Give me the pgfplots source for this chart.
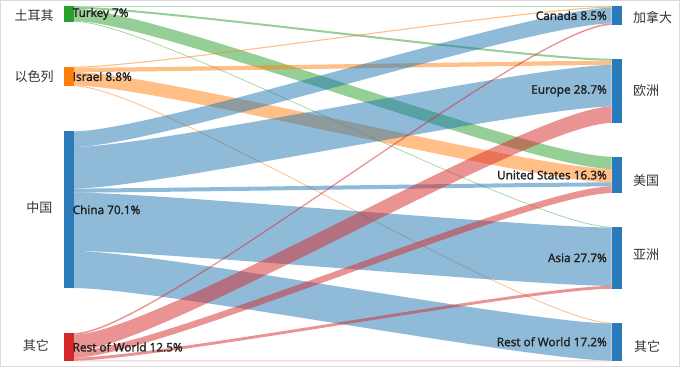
\documentclass[border=0pt]{standalone}
\usepackage{pgfplots}
\pgfplotsset{compat=1.18}
\usepackage{pgfplotstable}
\usepackage{fontspec}
\setmainfont{Open Sans}
\newfontface\lblfont{Open Sans}[FakeBold=1.6]
\newfontfamily\cjk{Noto Sans CJK SC}

\definecolor{cgreen}{HTML}{2CA02C}
\definecolor{corange}{HTML}{FF7F0E}
\definecolor{cblue}{HTML}{1F77B4}
\definecolor{cred}{HTML}{D62728}
\definecolor{nblue}{HTML}{2B7BBA}
\definecolor{lbl}{HTML}{1E1E1E}
\definecolor{cjkc}{HTML}{333333}
\definecolor{framec}{HTML}{DADADA}

% flows in percent of world total: source node, target node, value
% sources: 0 Turkey, 1 Israel, 2 China, 3 Rest of World
% targets: 0 Canada, 1 Europe, 2 United States, 3 Asia, 4 Rest of World
\pgfplotstableread{
src tgt val
0 0 0.3
0 1 0.9
0 2 5.5
0 3 0.3
1 0 0.5
1 1 1.9
1 2 6.0
1 4 0.4
2 0 7.0
2 1 18.6
2 2 1.8
2 3 26.1
2 4 16.6
3 0 0.7
3 1 7.3
3 2 3.0
3 3 1.3
3 4 0.2
}\links

\newcommand\M[1]{\csname #1\endcsname}

\begin{document}
\begin{tikzpicture}
\def\SC{2.236}
\def\XL{74}\def\XR{611.5}
\def\XCa{154.6}\def\XCb{530.9}
\def\LV{7,8.8,70.1,12.5}
\def\RV{8.5,28.7,16.3,27.7,17.2}
\pgfmathsetmacro\gL{(355-98.4*\SC)/3}
\pgfmathsetmacro\gR{(355-98.4*\SC)/4}
\gdef\cur{6}
\foreach \v [count=\i from 0] in \LV {%
  \expandafter\xdef\csname ltop\i\endcsname{\cur}%
  \pgfmathsetmacro\hh{\v*\SC}%
  \pgfmathsetmacro\bb{\cur+\hh}%
  \pgfmathsetmacro\mm{\cur+\hh/2}%
  \expandafter\xdef\csname lbot\i\endcsname{\bb}%
  \expandafter\xdef\csname lmid\i\endcsname{\mm}%
  \pgfmathsetmacro\nxt{\cur+\hh+\gL}%
  \xdef\cur{\nxt}%
  \expandafter\xdef\csname soff\i\endcsname{0}%
}
\gdef\cur{6}
\foreach \v [count=\i from 0] in \RV {%
  \expandafter\xdef\csname rtop\i\endcsname{\cur}%
  \pgfmathsetmacro\hh{\v*\SC}%
  \pgfmathsetmacro\bb{\cur+\hh}%
  \pgfmathsetmacro\mm{\cur+\hh/2}%
  \expandafter\xdef\csname rbot\i\endcsname{\bb}%
  \expandafter\xdef\csname rmid\i\endcsname{\mm}%
  \pgfmathsetmacro\nxt{\cur+\hh+\gR}%
  \xdef\cur{\nxt}%
  \expandafter\xdef\csname toff\i\endcsname{0}%
}
\foreach \c [count=\i from 0] in {cgreen,corange,cblue,cred} {\expandafter\xdef\csname lcol\i\endcsname{\c}}
\gdef\allpaths{}
\pgfplotstablegetrowsof{\links}
\pgfmathtruncatemacro\N{\pgfplotsretval-1}
\foreach \r in {0,...,\N}{%
  \pgfplotstablegetelem{\r}{src}\of\links \edef\Ls{\pgfplotsretval}%
  \pgfplotstablegetelem{\r}{tgt}\of\links \edef\Lt{\pgfplotsretval}%
  \pgfplotstablegetelem{\r}{val}\of\links \edef\Lv{\pgfplotsretval}%
  \pgfmathsetmacro\hh{\Lv*\SC}%
  \pgfmathsetmacro\sa{\csname ltop\Ls\endcsname+\csname soff\Ls\endcsname}%
  \pgfmathsetmacro\sb{\sa+\hh}%
  \pgfmathsetmacro\ta{\csname rtop\Lt\endcsname+\csname toff\Lt\endcsname}%
  \pgfmathsetmacro\tb{\ta+\hh}%
  \pgfmathsetmacro\ns{\csname soff\Ls\endcsname+\hh}%
  \expandafter\xdef\csname soff\Ls\endcsname{\ns}%
  \pgfmathsetmacro\nt{\csname toff\Lt\endcsname+\hh}%
  \expandafter\xdef\csname toff\Lt\endcsname{\nt}%
  \edef\cc{\csname lcol\Ls\endcsname}%
  \xdef\allpaths{\unexpanded\expandafter{\allpaths}%
    \noexpand\fill[\cc, fill opacity=0.5] (\XL,\sa) .. controls (\XCa,\sa) and (\XCb,\ta) .. (\XR,\ta) -- (\XR,\tb) .. controls (\XCb,\tb) and (\XCa,\sb) .. (\XL,\sb) -- cycle;}%
}
\begin{axis}[width=680pt,height=368pt,scale only axis,
  xmin=0,xmax=680,ymin=0,ymax=368,y dir=reverse,hide axis,clip=false]
\path (0,0) rectangle (680,368);
\draw[framec] (0.6,0.6) rectangle (679.4,366.6);
\allpaths
% left node bars
\fill[cgreen]  (64,\M{ltop0}) rectangle (74,\M{lbot0});
\fill[corange] (64,\M{ltop1}) rectangle (74,\M{lbot1});
\fill[nblue]   (64,\M{ltop2}) rectangle (74,\M{lbot2});
\fill[cred]    (64,\M{ltop3}) rectangle (74,\M{lbot3});
% right node bars
\pgfplotsinvokeforeach{0,...,4}{\fill[nblue] (611.5,\M{rtop#1}) rectangle (621.5,\M{rbot#1});}
% node labels
\tikzset{lab/.style={font=\lblfont\fontsize{11.8}{14}\selectfont, text=lbl, inner sep=0pt}}
\node[lab,anchor=west] at (72.5,\M{lmid0}) {Turkey 7\%};
\node[lab,anchor=west] at (72.5,\M{lmid1}) {Israel 8.8\%};
\node[lab,anchor=west] at (72.5,\M{lmid2}) {China 70.1\%};
\node[lab,anchor=west] at (72.5,\M{lmid3}) {Rest of World 12.5\%};
\node[lab,anchor=east] at (607,\M{rmid0}) {Canada 8.5\%};
\node[lab,anchor=east] at (607,\M{rmid1}) {Europe 28.7\%};
\node[lab,anchor=east] at (607,\M{rmid2}) {United States 16.3\%};
\node[lab,anchor=east] at (607,\M{rmid3}) {Asia 27.7\%};
\node[lab,anchor=east] at (607,\M{rmid4}) {Rest of World 17.2\%};
% Chinese annotations
\tikzset{cj/.style={font=\cjk\fontsize{13}{15}\selectfont, text=cjkc, inner sep=0pt}}
\node[cj] at (34,16) {土耳其};
\node[cj] at (34,77) {以色列};
\node[cj] at (39.5,208) {中国};
\node[cj] at (36,345) {其它};
\node[cj,anchor=west] at (633,17) {加拿大};
\node[cj,anchor=west] at (633,91) {欧洲};
\node[cj,anchor=west] at (633,181) {美国};
\node[cj,anchor=west] at (633,255) {亚洲};
\node[cj,anchor=west] at (634,346) {其它};
\end{axis}
\end{tikzpicture}
\end{document}
